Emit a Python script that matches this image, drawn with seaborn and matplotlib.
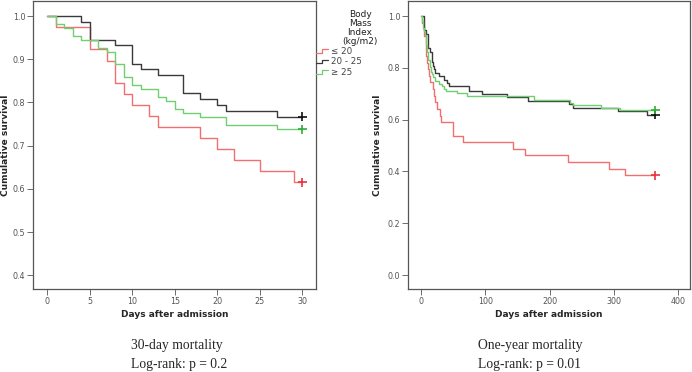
#!/usr/bin/env python3
#
# Kaplan-Meier survival by BMI group, 30-day and one-year
#
import numpy as np
import matplotlib
matplotlib.use('Agg')
import matplotlib.pyplot as plt
import seaborn as sns
import pandas as pd
from matplotlib.lines import Line2D
from matplotlib.legend_handler import HandlerBase

# Groups
groups = ['≤ 20', '20 - 25', '≥ 25']
legend_title = 'Body\nMass\nIndex\n(kg/m2)'

# 30-day mortality: event days and survival after each event
d30_low_days = [1, 5, 7, 8, 9, 10, 12, 13, 18, 20, 22, 25, 29]
d30_low_surv = [0.974, 0.923, 0.897, 0.846, 0.820, 0.795, 0.769, 0.744,
                0.718, 0.692, 0.667, 0.641, 0.615]
d30_mid_days = [4, 5, 8, 10, 11, 13, 16, 18, 20, 21, 27]
d30_mid_surv = [0.986, 0.945, 0.932, 0.890, 0.877, 0.863, 0.822, 0.808,
                0.795, 0.781, 0.767]
d30_high_days = [1, 2, 3, 4, 6, 7, 8, 9, 10, 11, 13, 14, 15, 16, 18, 21, 27]
d30_high_surv = [0.981, 0.972, 0.954, 0.944, 0.925, 0.916, 0.888, 0.860,
                 0.841, 0.832, 0.813, 0.804, 0.785, 0.776, 0.766, 0.748, 0.738]

# One-year mortality: additional events after day 30
y1_low_days = [31, 49, 65, 143, 162, 229, 292, 317]
y1_low_surv = [0.590, 0.538, 0.513, 0.487, 0.462, 0.436, 0.410, 0.385]
y1_mid_days = [36, 40, 43, 74, 95, 134, 167, 231, 237, 307, 352]
y1_mid_surv = [0.753, 0.740, 0.728, 0.712, 0.699, 0.686, 0.673, 0.660,
               0.645, 0.632, 0.618]
y1_high_days = [32, 35, 38, 55, 71, 175, 232, 237, 280, 310]
y1_high_surv = [0.729, 0.720, 0.710, 0.701, 0.692, 0.676, 0.666, 0.655,
                0.645, 0.637]

captions = [
    ['30-day mortality', 'Log-rank: p = 0.2'],
    ['One-year mortality', 'Log-rank: p = 0.01'],
]

line_colors = ['#f07070', '#3a3a3a', '#70cf70']
mark_colors = ['#e8323c', '#111111', '#2fae3a']


def km_frame(day_lists, surv_lists, end):
    rows = []
    for g, days, surv in zip(groups, day_lists, surv_lists):
        ts = [0] + list(days) + [end]
        ss = [1.0] + list(surv) + [surv[-1]]
        for t, s in zip(ts, ss):
            rows.append({'day': t, 'surv': s, 'bmi': g})
    return pd.DataFrame(rows)


df30 = km_frame([d30_low_days, d30_mid_days, d30_high_days],
                [d30_low_surv, d30_mid_surv, d30_high_surv], 30)
df1y = km_frame(
    [d30_low_days + y1_low_days, d30_mid_days + y1_mid_days,
     d30_high_days + y1_high_days],
    [d30_low_surv + y1_low_surv, d30_mid_surv + y1_mid_surv,
     d30_high_surv + y1_high_surv], 365)

sns.set_style('ticks')
plt.rcParams['font.family'] = ['DejaVu Sans']

fig = plt.figure(figsize=(6.92, 3.72), dpi=100)
ax1 = fig.add_axes([33 / 692, 1 - 289 / 372, 283 / 692, 288 / 372])
ax2 = fig.add_axes([408 / 692, 1 - 289 / 372, 282 / 692, 288 / 372])

panels = [
    (ax1, df30, (-1.68, 31.6), (0.368, 1.035),
     np.arange(0, 31, 5), np.arange(0.4, 1.01, 0.1), -0.081),
    (ax2, df1y, (-20.7, 419), (-0.054, 1.058),
     np.arange(0, 401, 100), np.arange(0.0, 1.01, 0.2), -0.092),
]

for ax, df, xlim, ylim, xt, yt, ylab_x in panels:
    sns.lineplot(data=df, x='day', y='surv', hue='bmi', hue_order=groups,
                 palette=dict(zip(groups, line_colors)), drawstyle='steps-post',
                 estimator=None, legend=False, linewidth=1.0, ax=ax)
    last = df.groupby('bmi', sort=False).tail(1)
    sns.scatterplot(data=last, x='day', y='surv', hue='bmi', hue_order=groups,
                    palette=dict(zip(groups, mark_colors)), marker='+', s=40,
                    linewidth=1.2, legend=False, ax=ax, zorder=5)
    ax.set_xlim(*xlim)
    ax.set_ylim(*ylim)
    ax.set_xticks(xt)
    ax.set_yticks(yt)
    ax.set_yticklabels(['{:.1f}'.format(v) for v in yt])
    ax.tick_params(labelsize=5.8, colors='#555555', length=4, width=0.6,
                   pad=1.5)
    for sp in ax.spines.values():
        sp.set_visible(True)
        sp.set_color('#555555')
        sp.set_linewidth(0.9)
    ax.set_xlabel('Days after admission', fontsize=6.5, fontweight='bold')
    ax.set_ylabel('Cumulative survival', fontsize=6.5, fontweight='bold')
    ax.xaxis.set_label_coords(0.5, -0.073)
    ax.yaxis.set_label_coords(ylab_x, 0.5)


# Step-shaped legend icons
class StepHandler(HandlerBase):
    def create_artists(self, legend, orig_handle, xdescent, ydescent,
                       width, height, fontsize, trans):
        x = [0, width * 0.5, width * 0.5, width]
        y = [height * 0.15, height * 0.15, height * 0.75, height * 0.75]
        ln = Line2D(x, y, color=orig_handle.get_color(), linewidth=0.9,
                    transform=trans)
        return [ln]


fig.text(360 / 692, 1 - 10 / 372, legend_title, ha='center', va='top',
         fontsize=6.5, linespacing=1.0, color='#222222')
handles = [Line2D([], [], color=c) for c in line_colors]
leg = fig.legend(handles, groups, loc='upper left',
                 bbox_to_anchor=(316 / 692, 1 - 47 / 372), frameon=False,
                 fontsize=6.3, handlelength=1.4, handletextpad=0.3,
                 labelspacing=0.15, borderpad=0, borderaxespad=0,
                 handler_map={Line2D: StepHandler()})
for t in leg.get_texts():
    t.set_color('#444444')

# Captions
for x, lines in zip([131 / 692, 478 / 692], captions):
    for y, text in zip([349.5, 368], lines):
        fig.text(x, 1 - y / 372, text, ha='left', va='baseline',
                 fontsize=9.8, family='Liberation Serif')

plt.savefig('out.png', dpi=100)
